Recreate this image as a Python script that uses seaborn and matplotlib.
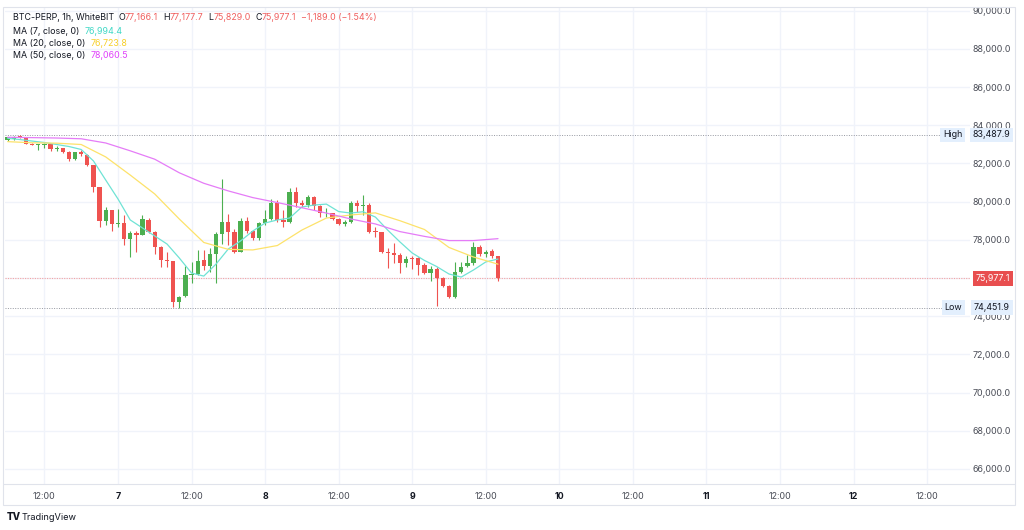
import numpy as np
import pandas as pd
import seaborn as sns
import matplotlib.pyplot as plt
from matplotlib.lines import Line2D
from matplotlib.patches import Rectangle

# hourly BTC-PERP candles, 6 Apr 06:00 -> 9 Apr 14:00
opens = [83210, 83280, 83410, 83370, 83040, 82950, 82960, 83000, 82760, 82800,
         82620, 82220, 82580, 82450, 81920, 80760, 79000, 79540, 78840, 78900,
         78030, 78340, 78240, 79050, 78410, 77640, 76960, 76880, 74760, 75040,
         76160, 76210, 76920, 76630, 77260, 78300, 78950, 78390, 77380, 79000,
         78460, 78080, 78860, 79080, 79910, 79060, 78950, 80520, 79910, 79810,
         80230, 79770, 79380, 79400, 79110, 78810, 78950, 79940, 79770, 79820,
         78440, 78390, 77380, 77290, 77200, 76770, 77030, 77030, 76680, 76280,
         76460, 75980, 75580, 75020, 76330, 76650, 76770, 77610, 77240, 77390,
         77166.1]
highs = [83380, 83420, 83487.9, 83390, 83070, 83020, 83050, 83020, 82900, 82810,
         82650, 82600, 82690, 82470, 81940, 80780, 79730, 79560, 79610, 79300,
         78480, 78460, 79300, 79130, 78440, 77680, 77380, 76900, 75060, 76640,
         76850, 77470, 77470, 77560, 78420, 81170, 79340, 78550, 79130, 79210,
         78510, 78950, 79560, 80120, 80080, 79560, 80700, 80780, 80080, 80350,
         80290, 79820, 79670, 79420, 79160, 79040, 80050, 80080, 80350, 79940,
         78690, 78420, 77560, 77850, 77290, 77150, 77150, 77080, 76770, 76630,
         76590, 76070, 75630, 76850, 76850, 77200, 77900, 77730, 77470, 77500,
         77177.7]
lows = [83170, 83210, 83350, 83000, 82940, 82700, 82790, 82650, 82650, 82570,
        82140, 82190, 82400, 81890, 80520, 78660, 78780, 78460, 78690, 77730,
        77120, 77380, 78230, 78380, 77240, 76590, 76590, 74500, 74451.9, 75030,
        75720, 76160, 76420, 76330, 75720, 77780, 77730, 77290, 77340, 78340,
        77990, 77990, 78780, 79060, 78950, 78690, 78860, 79730, 79730, 79730,
        79560, 79180, 79210, 79040, 78780, 78740, 78900, 79470, 79300, 78340,
        78130, 77290, 76510, 76770, 76280, 76590, 76460, 76160, 76210, 75840,
        74530, 75530, 74940, 74950, 76260, 76560, 76680, 77150, 77120, 77030,
        75829.0]
closes = [83370, 83400, 83370, 83030, 82960, 82980, 83000, 82750, 82820, 82610,
          82230, 82580, 82480, 81920, 80780, 79000, 79560, 78830, 78900, 78030,
          78340, 78240, 79070, 78420, 77640, 76940, 76900, 74760, 75020, 76160,
          76210, 76910, 76630, 77260, 78300, 78950, 78390, 77380, 79000, 78480,
          78080, 78860, 79070, 79910, 79040, 78950, 80520, 79910, 79810, 80230,
          79770, 79390, 79400, 79110, 78810, 78950, 79940, 79770, 79820, 78420,
          78390, 77380, 77290, 77200, 76770, 76980, 76980, 76680, 76280, 76460,
          75980, 75580, 75020, 76330, 76590, 76770, 77610, 77240, 77380, 77166.1,
          75977.1]

# moving averages (MA7 every 2 bars, MA20/MA50 every 4 bars)
ma7 = [83315, 83250, 83170, 83095, 82990, 82885, 82730, 82130, 81130, 80140,
       79040, 78620, 78200, 77780, 77050, 76260, 76100, 76730, 77520, 77940,
       78460, 78880, 79040, 79140, 79720, 79820, 79870, 79480, 79400, 79470,
       79190, 78510, 77890, 77310, 76920, 76600, 76210, 76050, 76420, 76840,
       76994.4]
ma20 = [83140, 83080, 83060, 82990, 82340, 81390, 80400, 79090, 77860, 77500,
        77470, 77700, 78510, 79140, 79300, 79410, 79000, 78540, 77600, 77100,
        76723.8]
ma50 = [83370, 83350, 83330, 83290, 83070, 82660, 82220, 81510, 80960, 80560,
        80210, 79950, 79680, 79400, 79090, 78830, 78430, 78180, 77960, 77960,
        78060.5]

high_price = 83487.9
low_price = 74451.9
last_price = 75977.1

x_labels = ['12:00', '7', '12:00', '8', '12:00', '9', '12:00', '10',
            '12:00', '11', '12:00', '12', '12:00']

times = pd.date_range('2025-04-06 06:00', periods=len(opens), freq='h')
hours = ((times - pd.Timestamp('2025-04-07')) / pd.Timedelta('1h')).values
df = pd.DataFrame({'t': hours, 'o': opens, 'h': highs, 'l': lows, 'c': closes})

GREEN = '#4caf50'
RED = '#ef5350'
DARK = '#131722'
GRID = '#f0f3fa'

sns.set_theme(style='white')
plt.rcParams['font.family'] = ['Inter', 'DejaVu Sans']
FS = 6.4

W, H = 1024, 530
fig = plt.figure(figsize=(W / 100, H / 100), dpi=100)
ax = fig.add_axes([5 / W, 1 - 484 / H, 965 / W, 477 / H])

ax.set_xlim(-18.43, 139.0)
ax.set_ylim(65214, 90190)

yt = np.arange(66000, 90001, 2000)
ax.set_yticks(yt)
# the 76,000 label sits under the last-price tag, as on the original
ax.set_yticklabels(['' if v == 76000 else f'{v:,.1f}' for v in yt])
ax.set_xticks(np.arange(-12, 133, 12))
ax.set_xticklabels(x_labels)
ax.yaxis.tick_right()
ax.tick_params(axis='y', length=0, pad=2, labelsize=FS, labelcolor='#4a4d57')
ax.tick_params(axis='x', length=0, pad=6, labelsize=FS, labelcolor='#4a4d57')
for lab in ax.get_xticklabels():
    if ':' not in lab.get_text():
        lab.set_fontweight('bold')
        lab.set_color(DARK)
ax.grid(True, color=GRID, lw=1)
for s in ax.spines.values():
    s.set_visible(False)

# candles
up = df['c'] >= df['o']
cols = np.where(up, GREEN, RED)
body_lo = np.minimum(df['o'], df['c'])
body_h = np.maximum(np.abs(df['c'] - df['o']), 45)
ax.vlines(df['t'], df['l'], df['h'], colors=cols, lw=0.8, zorder=2)
ax.bar(df['t'], body_h, bottom=body_lo, width=0.7, color=cols, lw=0, zorder=3)

# moving averages
t7 = df['t'].values[::2]
t4 = df['t'].values[::4]
sns.lineplot(x=t7, y=ma7, ax=ax, color='#6fe3d5', lw=0.9, zorder=4)
sns.lineplot(x=t4, y=ma20, ax=ax, color='#fde26a', lw=0.9, zorder=4)
sns.lineplot(x=t4, y=ma50, ax=ax, color='#e57cf7', lw=0.9, zorder=4)

# high / low / last price lines
ax.axhline(high_price, xmax=0.969, color='#9598a1', lw=0.7, ls=(0, (1, 1.5)), zorder=1)
ax.axhline(low_price, xmax=0.973, color='#9598a1', lw=0.7, ls=(0, (1, 1.5)), zorder=1)
ax.axhline(last_price, color='#f4a3a3', lw=0.8, ls=(0, (1, 1.2)), zorder=1)


def ypix(p):
    return (p - 65214) / (90190 - 65214) * 477 + (H - 484)


lbl = dict(boxstyle='square,pad=0.3', fc='#e3effd', ec='none')
fig.text(1010 / W, ypix(high_price) / H, f'{high_price:,.1f}', ha='right', va='center',
         fontsize=FS, color=DARK, bbox=lbl)
fig.text(962 / W, ypix(high_price) / H, 'High', ha='right', va='center',
         fontsize=FS, color=DARK, bbox=lbl)
fig.text(1010 / W, ypix(low_price) / H, f'{low_price:,.1f}', ha='right', va='center',
         fontsize=FS, color=DARK, bbox=lbl)
fig.text(962 / W, ypix(low_price) / H, 'Low', ha='right', va='center',
         fontsize=FS, color=DARK, bbox=lbl)
fig.text(1010 / W, ypix(last_price) / H, f'{last_price:,.1f}', ha='right', va='center',
         fontsize=FS, color='white',
         bbox=dict(boxstyle='square,pad=0.3', fc='#e84e4f', ec='none'))


# legend header, chained text pieces
def chain(parts, x, y):
    prev = ax.annotate(parts[0][0], xy=(x, H - y), xycoords='figure pixels',
                       va='center', ha='left', fontsize=FS, color=parts[0][1],
                       annotation_clip=False)
    for txt, col, gap in parts[1:]:
        prev = ax.annotate(txt, xy=(1, 0), xycoords=prev, xytext=(gap, 0),
                           textcoords='offset points', va='bottom', ha='left',
                           fontsize=FS, color=col, annotation_clip=False)


HRED = '#f06060'
chain([('BTC-PERP, 1h, WhiteBIT', DARK), ('O', DARK, 3), ('77,166.1', HRED, 0),
       ('H', DARK, 3.5), ('77,177.7', HRED, 0), ('L', DARK, 3.5), ('75,829.0', HRED, 0),
       ('C', DARK, 3.5), ('75,977.1', HRED, 0), ('\u22121,189.0 (\u22121.54%)', HRED, 3.5)], 13, 18)
chain([('MA (7, close, 0)', DARK), ('76,994.4', '#3fd8c5', 4)], 13, 31)
chain([('MA (20, close, 0)', DARK), ('76,723.8', '#f7cf2a', 4)], 13, 43)
chain([('MA (50, close, 0)', DARK), ('78,060.5', '#e040fb', 4)], 13, 55)

# frame and time-axis separator
fig.add_artist(Rectangle((3 / W, 1 - 505 / H), 1012 / W, 498 / H, transform=fig.transFigure,
                         fill=False, ec='#e0e3eb', lw=0.8))
fig.add_artist(Line2D([3 / W, 1015 / W], [1 - 484 / H, 1 - 484 / H],
                      transform=fig.transFigure, color='#e0e3eb', lw=0.8))

fig.text(7 / W, 1 - 517 / H, 'TV', fontsize=7, fontweight='heavy', color=DARK, va='center')
fig.text(22 / W, 1 - 517 / H, 'TradingView', fontsize=6.6, color=DARK, va='center')

fig.savefig('out.png', dpi=100, facecolor='white')
